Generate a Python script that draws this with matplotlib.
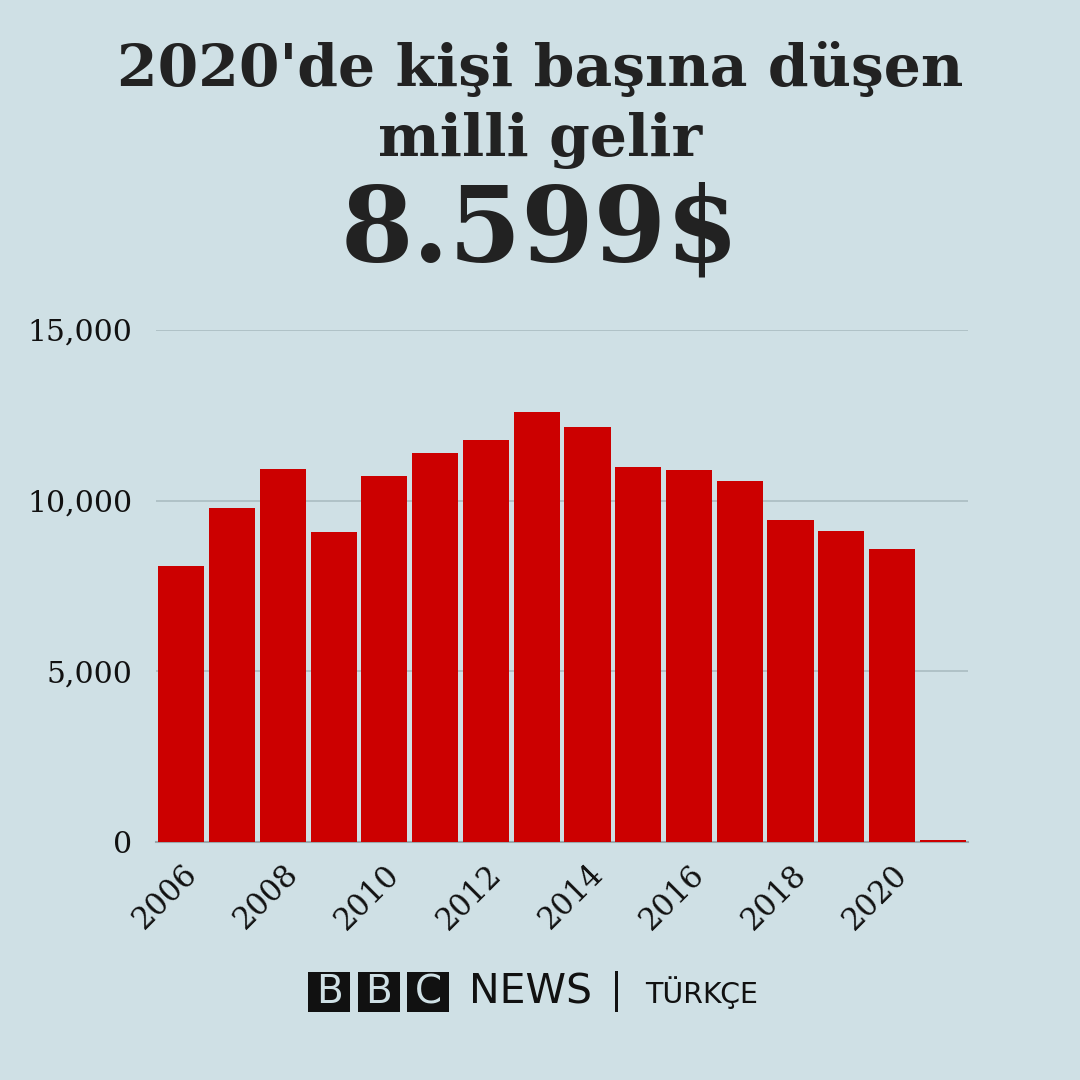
import matplotlib
matplotlib.use("Agg")
import matplotlib.pyplot as plt
from matplotlib.patches import Rectangle

years = [2006, 2007, 2008, 2009, 2010, 2011, 2012, 2013, 2014, 2015, 2016, 2017, 2018, 2019, 2020, 2021]
values = [8090, 9790, 10930, 9080, 10720, 11400, 11780, 12600, 12160, 10990, 10900, 10580, 9430, 9110, 8599, 50]
tick_years = [2006, 2008, 2010, 2012, 2014, 2016, 2018, 2020]
yticks = [0, 5000, 10000, 15000]

title1 = "2020'de kişi başına düşen"
title2 = "milli gelir"
big = "8.599$"

BG = "#cfe0e5"
RED = "#cc0000"

fig = plt.figure(figsize=(10.8, 10.8), dpi=100, facecolor=BG)
ax = fig.add_axes([0.1444, 0.2204, 0.752, 0.474], facecolor=BG)

x = list(range(len(years)))
ax.bar(x, values, width=0.91, color=RED, zorder=5)
ax.set_xlim(-0.5, len(years) - 0.5)
ax.set_ylim(0, 15000)
ax.set_yticks(yticks)
ax.set_yticklabels([f"{v:,}" for v in yticks], fontsize=21.5, family="DejaVu Serif", color="#111111")
ax.yaxis.grid(True, color="#aabcc2", linewidth=1.2, zorder=0)
ax.tick_params(axis="y", length=0, pad=17)
ax.set_xticks([years.index(t) for t in tick_years])
ax.set_xticklabels([str(t) for t in tick_years], rotation=45, ha="right",
                   rotation_mode="anchor", fontsize=22, family="DejaVu Serif", color="#111111")
ax.tick_params(axis="x", length=0, pad=12)
for s in ["top", "right", "left"]:
    ax.spines[s].set_visible(False)
ax.spines["bottom"].set_color("#9aa8ac")
ax.spines["bottom"].set_linewidth(1.5)
ax.spines["bottom"].set_zorder(4)

fig.text(0.5, 0.935, title1, ha="center", va="center", fontsize=42, fontweight="bold",
         family="DejaVu Serif", color="#222222")
fig.text(0.5, 0.87, title2, ha="center", va="center", fontsize=42, fontweight="bold",
         family="DejaVu Serif", color="#222222")
fig.text(0.5, 0.785, big, ha="center", va="center", fontsize=75, fontweight="bold",
         family="DejaVu Serif", color="#222222")

# BBC NEWS TÜRKÇE logo
for i, letter in enumerate("BBC"):
    x0 = (308 + i * 49.5) / 1080
    fig.patches.append(Rectangle((x0, 1 - 1012 / 1080), 42 / 1080, 40 / 1080,
                                 transform=fig.transFigure, facecolor="#111111", edgecolor="none"))
    fig.text(x0 + 21 / 1080, 1 - 992 / 1080, letter, ha="center", va="center", fontsize=28,
             color=BG, family="DejaVu Sans")
fig.text(469 / 1080, 1 - 992 / 1080, "NEWS", ha="left", va="center", fontsize=29.5,
         color="#111111", family="DejaVu Sans")
fig.patches.append(Rectangle((615 / 1080, 1 - 1012 / 1080), 3 / 1080, 41 / 1080,
                             transform=fig.transFigure, facecolor="#111111", edgecolor="none"))
fig.text(645 / 1080, 1 - 993 / 1080, "TÜRKÇE", ha="left", va="center", fontsize=20.5,
         color="#111111", family="DejaVu Sans")

fig.savefig("out.png", dpi=100, facecolor=BG)
